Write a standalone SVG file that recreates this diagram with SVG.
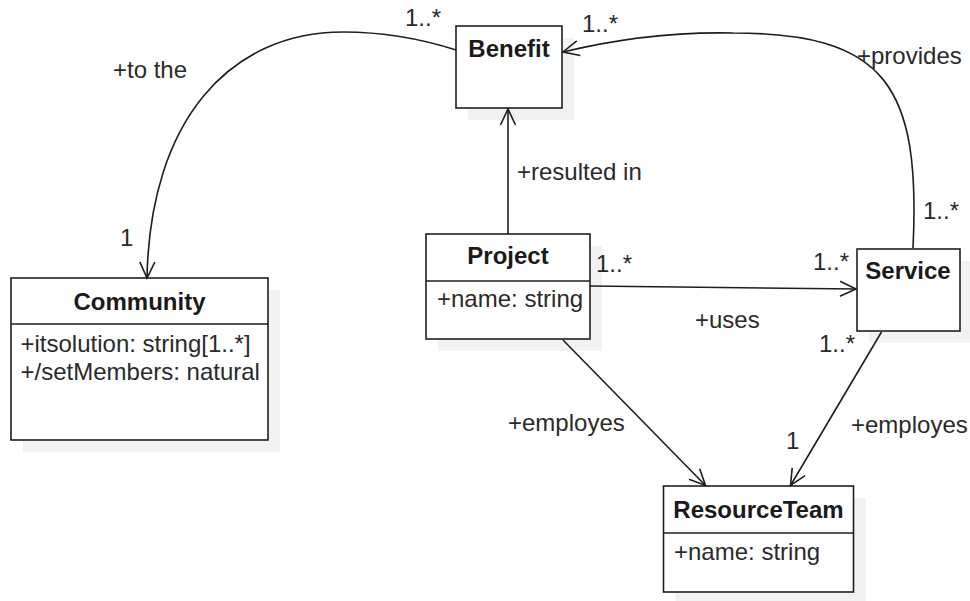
<svg xmlns="http://www.w3.org/2000/svg" width="970" height="601" viewBox="0 0 970 601">
<defs>
<style>
.shadow{fill:#f2f2f2;stroke:none}
.box{fill:#ffffff;stroke:#1e1e1e;stroke-width:1.6}
.div{stroke:#1e1e1e;stroke-width:1.6}
.title{font-family:"Liberation Sans",Arial,sans-serif;font-size:24px;font-weight:bold;fill:#1a1a1a;text-anchor:middle}
.attr{font-family:"Liberation Sans",Arial,sans-serif;font-size:24px;fill:#2a2a2a}
.lbl{font-family:"Liberation Sans",Arial,sans-serif;font-size:24px;fill:#2a2a2a}
.edge{fill:none;stroke:#1e1e1e;stroke-width:1.6;marker-end:url(#open)}
</style>
<marker id="open" viewBox="-20 -10 22 20" refX="0" refY="0" markerWidth="22" markerHeight="20" markerUnits="userSpaceOnUse" orient="auto" overflow="visible">
<path d="M-16,-7.5 L0,0 L-16,7.5" fill="none" stroke="#1e1e1e" stroke-width="1.6"/>
</marker>
</defs>
<rect width="970" height="601" fill="#ffffff"/>

<g id="Benefit">
<rect class="shadow" x="468" y="38" width="106" height="82"/>
<rect class="box" x="456" y="26" width="106" height="82"/>
<text class="title" x="509" y="57">Benefit</text>
</g>

<g id="Community">
<rect class="shadow" x="23" y="290" width="257" height="162"/>
<rect class="box" x="11" y="278" width="257" height="162"/>
<line class="div" x1="11" y1="324" x2="268" y2="324"/>
<text class="title" x="139.5" y="310">Community</text>
<text class="attr" x="20.5" y="352">+itsolution: string[1..*]</text>
<text class="attr" x="20.5" y="380">+/setMembers: natural</text>
</g>

<g id="Project">
<rect class="shadow" x="438" y="246" width="164" height="105"/>
<rect class="box" x="426" y="234" width="164" height="105"/>
<line class="div" x1="426" y1="281" x2="590" y2="281"/>
<text class="title" x="508" y="264">Project</text>
<text class="attr" x="437" y="307">+name: string</text>
</g>

<g id="Service">
<rect class="shadow" x="869" y="261" width="103" height="82"/>
<rect class="box" x="857" y="249" width="103" height="82"/>
<text class="title" x="908" y="279">Service</text>
</g>

<g id="ResourceTeam">
<rect class="shadow" x="675.5" y="498" width="190" height="106"/>
<rect class="box" x="663.5" y="486" width="190" height="106"/>
<line class="div" x1="663.5" y1="533" x2="853.5" y2="533"/>
<text class="title" x="758.5" y="518">ResourceTeam</text>
<text class="attr" x="674" y="560">+name: string</text>
</g>

<g id="connectors">
<path class="edge" d="M456,50 Q400,32 343,32 C230,32 150,120 147,278"/>
<path class="edge" d="M508,234 L508,109"/>
<path class="edge" d="M913,248 C921,85 885,33 733,33 Q650,31 563,52"/>
<path class="edge" d="M590,286 L856,289"/>
<path class="edge" d="M563,340 L705.5,485.5"/>
<path class="edge" d="M881.5,332 L790.5,485.5"/>
</g>

<g id="labels">
<text class="lbl" x="405" y="26">1..*</text>
<text class="lbl" x="113" y="78">+to the</text>
<text class="lbl" x="120" y="246">1</text>
<text class="lbl" x="582" y="32">1..*</text>
<text class="lbl" x="857" y="64">+provides</text>
<text class="lbl" x="517" y="180">+resulted in</text>
<text class="lbl" x="923" y="219">1..*</text>
<text class="lbl" x="596" y="272">1..*</text>
<text class="lbl" x="813" y="270">1..*</text>
<text class="lbl" x="695" y="328">+uses</text>
<text class="lbl" x="508" y="431">+employes</text>
<text class="lbl" x="819" y="352">1..*</text>
<text class="lbl" x="851" y="433">+employes</text>
<text class="lbl" x="786" y="449">1</text>
</g>
</svg>
